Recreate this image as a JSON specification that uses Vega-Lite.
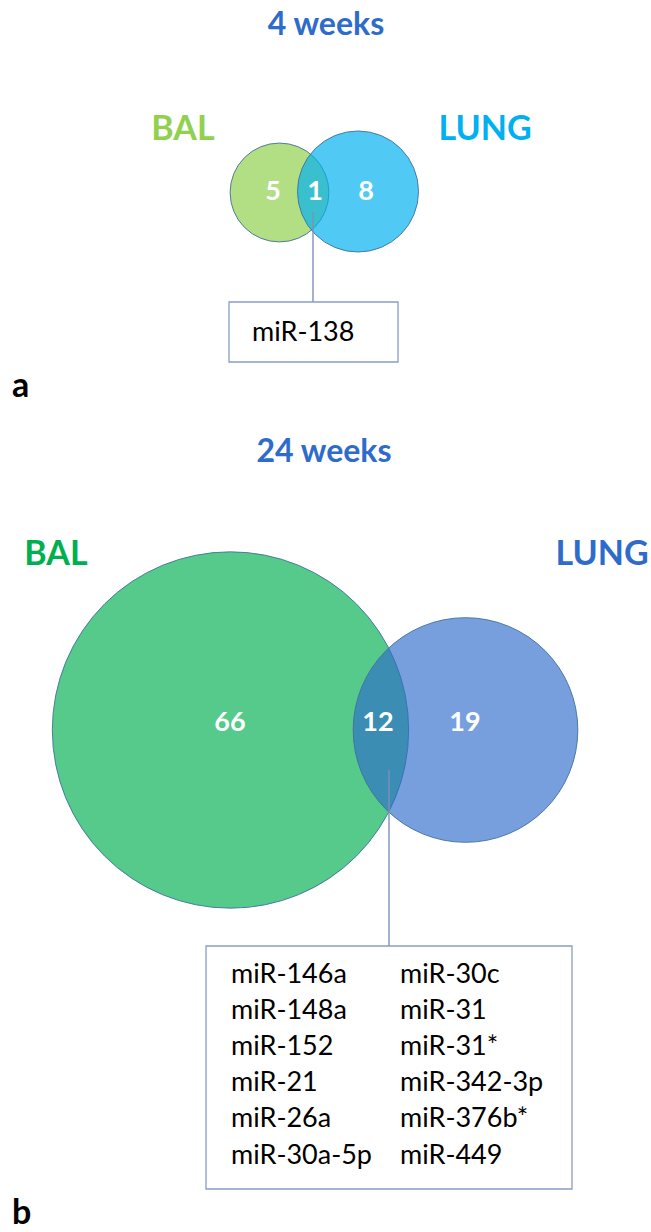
{
  "$schema": "https://vega.github.io/schema/vega-lite/v6.json",
  "width": 651,
  "height": 1232,
  "autosize": {"type": "none"},
  "padding": 0,
  "background": "white",
  "config": {"view": {"stroke": null}, "font": "Lato"},
  "encoding": {
    "x": {"field": "cx", "type": "quantitative", "scale": {"domain": [0, 651], "nice": false, "zero": false}, "axis": null},
    "y": {"field": "cy", "type": "quantitative", "scale": {"domain": [0, 1232], "nice": false, "zero": false, "reverse": true}, "axis": null}
  },
  "layer": [
    {
      "data": {"values": [
        {"group": "BAL 4 weeks", "n": 6, "cx": 279.5, "cy": 192.5},
        {"group": "LUNG 4 weeks", "n": 9, "cx": 358, "cy": 191.5},
        {"group": "BAL 24 weeks", "n": 78, "cx": 230.5, "cy": 730},
        {"group": "LUNG 24 weeks", "n": 31, "cx": 465.5, "cy": 730}
      ]},
      "mark": {"type": "point", "filled": true, "opacity": 1, "shape": "circle", "stroke": "#41719C", "strokeWidth": 1, "strokeOpacity": 0.9},
      "encoding": {
        "size": {"field": "n", "type": "quantitative", "scale": {"domain": [0, 78], "range": [0, 127000], "zero": true}, "legend": null},
        "color": {"field": "group", "type": "nominal", "legend": null,
          "scale": {"domain": ["BAL 4 weeks", "LUNG 4 weeks", "BAL 24 weeks", "LUNG 24 weeks", "heading"],
                    "range": ["#92D050", "#00B0F0", "#00B050", "#2E6BCB", "#2E6BCB"]}},
        "fillOpacity": {"field": "group", "type": "nominal", "legend": null,
          "scale": {"domain": ["BAL 4 weeks", "LUNG 4 weeks", "BAL 24 weeks", "LUNG 24 weeks"], "range": [0.7, 0.65, 0.77, 0.71]}}
      }
    },
    {
      "data": {"values": [
        {"cx": 313, "cy": 212, "cy2": 302},
        {"cx": 389, "cy": 770, "cy2": 946}
      ]},
      "mark": {"type": "rule", "stroke": "#7F90B8", "strokeWidth": 1.4},
      "encoding": {"y2": {"field": "cy2"}}
    },
    {
      "data": {"values": [
        {"cx": 229, "cx2": 398, "cy": 302, "cy2": 362},
        {"cx": 206, "cx2": 572, "cy": 946, "cy2": 1189}
      ]},
      "mark": {"type": "rect", "fill": null, "fillOpacity": 0, "stroke": "#8A9CC4", "strokeWidth": 1.3},
      "encoding": {"x2": {"field": "cx2"}, "y2": {"field": "cy2"}}
    },
    {
      "data": {"values": [
        {"label": "4 weeks", "group": "heading", "cx": 326, "cy": 25},
        {"label": "24 weeks", "group": "heading", "cx": 324, "cy": 452}
      ]},
      "mark": {"type": "text", "fontWeight": "bold", "fontSize": 32, "align": "center", "baseline": "middle"},
      "encoding": {"text": {"field": "label"}, "color": {"field": "group", "type": "nominal", "legend": null}}
    },
    {
      "data": {"values": [
        {"label": "BAL", "group": "BAL 4 weeks", "cx": 183, "cy": 130},
        {"label": "LUNG", "group": "LUNG 4 weeks", "cx": 485, "cy": 130},
        {"label": "BAL", "group": "BAL 24 weeks", "cx": 56, "cy": 555},
        {"label": "LUNG", "group": "LUNG 24 weeks", "cx": 602, "cy": 555}
      ]},
      "mark": {"type": "text", "fontWeight": "bold", "fontSize": 34, "align": "center", "baseline": "middle"},
      "encoding": {"text": {"field": "label"}, "color": {"field": "group", "type": "nominal", "legend": null}}
    },
    {
      "data": {"values": [
        {"label": "5", "cx": 273, "cy": 192},
        {"label": "1", "cx": 315, "cy": 192},
        {"label": "8", "cx": 366, "cy": 192},
        {"label": "66", "cx": 230, "cy": 723},
        {"label": "12", "cx": 378, "cy": 723},
        {"label": "19", "cx": 465, "cy": 723}
      ]},
      "mark": {"type": "text", "fontWeight": "bold", "fontSize": 27, "align": "center", "baseline": "middle", "color": "white"},
      "encoding": {"text": {"field": "label"}}
    },
    {
      "data": {"values": [
        {"label": "a", "cx": 12, "cy": 387},
        {"label": "b", "cx": 12, "cy": 1214}
      ]},
      "mark": {"type": "text", "fontWeight": "bold", "fontSize": 34, "align": "left", "baseline": "middle", "color": "black"},
      "encoding": {"text": {"field": "label"}}
    },
    {
      "data": {"values": [
        {"label": "miR-138", "cx": 252, "cy": 333},
        {"label": "miR-146a", "cx": 231, "cy": 975},
        {"label": "miR-148a", "cx": 231, "cy": 1011},
        {"label": "miR-152", "cx": 231, "cy": 1047},
        {"label": "miR-21", "cx": 231, "cy": 1083},
        {"label": "miR-26a", "cx": 231, "cy": 1119},
        {"label": "miR-30a-5p", "cx": 231, "cy": 1156},
        {"label": "miR-30c", "cx": 400, "cy": 975},
        {"label": "miR-31", "cx": 400, "cy": 1011},
        {"label": "miR-31*", "cx": 400, "cy": 1047},
        {"label": "miR-342-3p", "cx": 400, "cy": 1083},
        {"label": "miR-376b*", "cx": 400, "cy": 1119},
        {"label": "miR-449", "cx": 400, "cy": 1156}
      ]},
      "mark": {"type": "text", "fontSize": 27, "align": "left", "baseline": "middle", "color": "black"},
      "encoding": {"text": {"field": "label"}}
    }
  ]
}
